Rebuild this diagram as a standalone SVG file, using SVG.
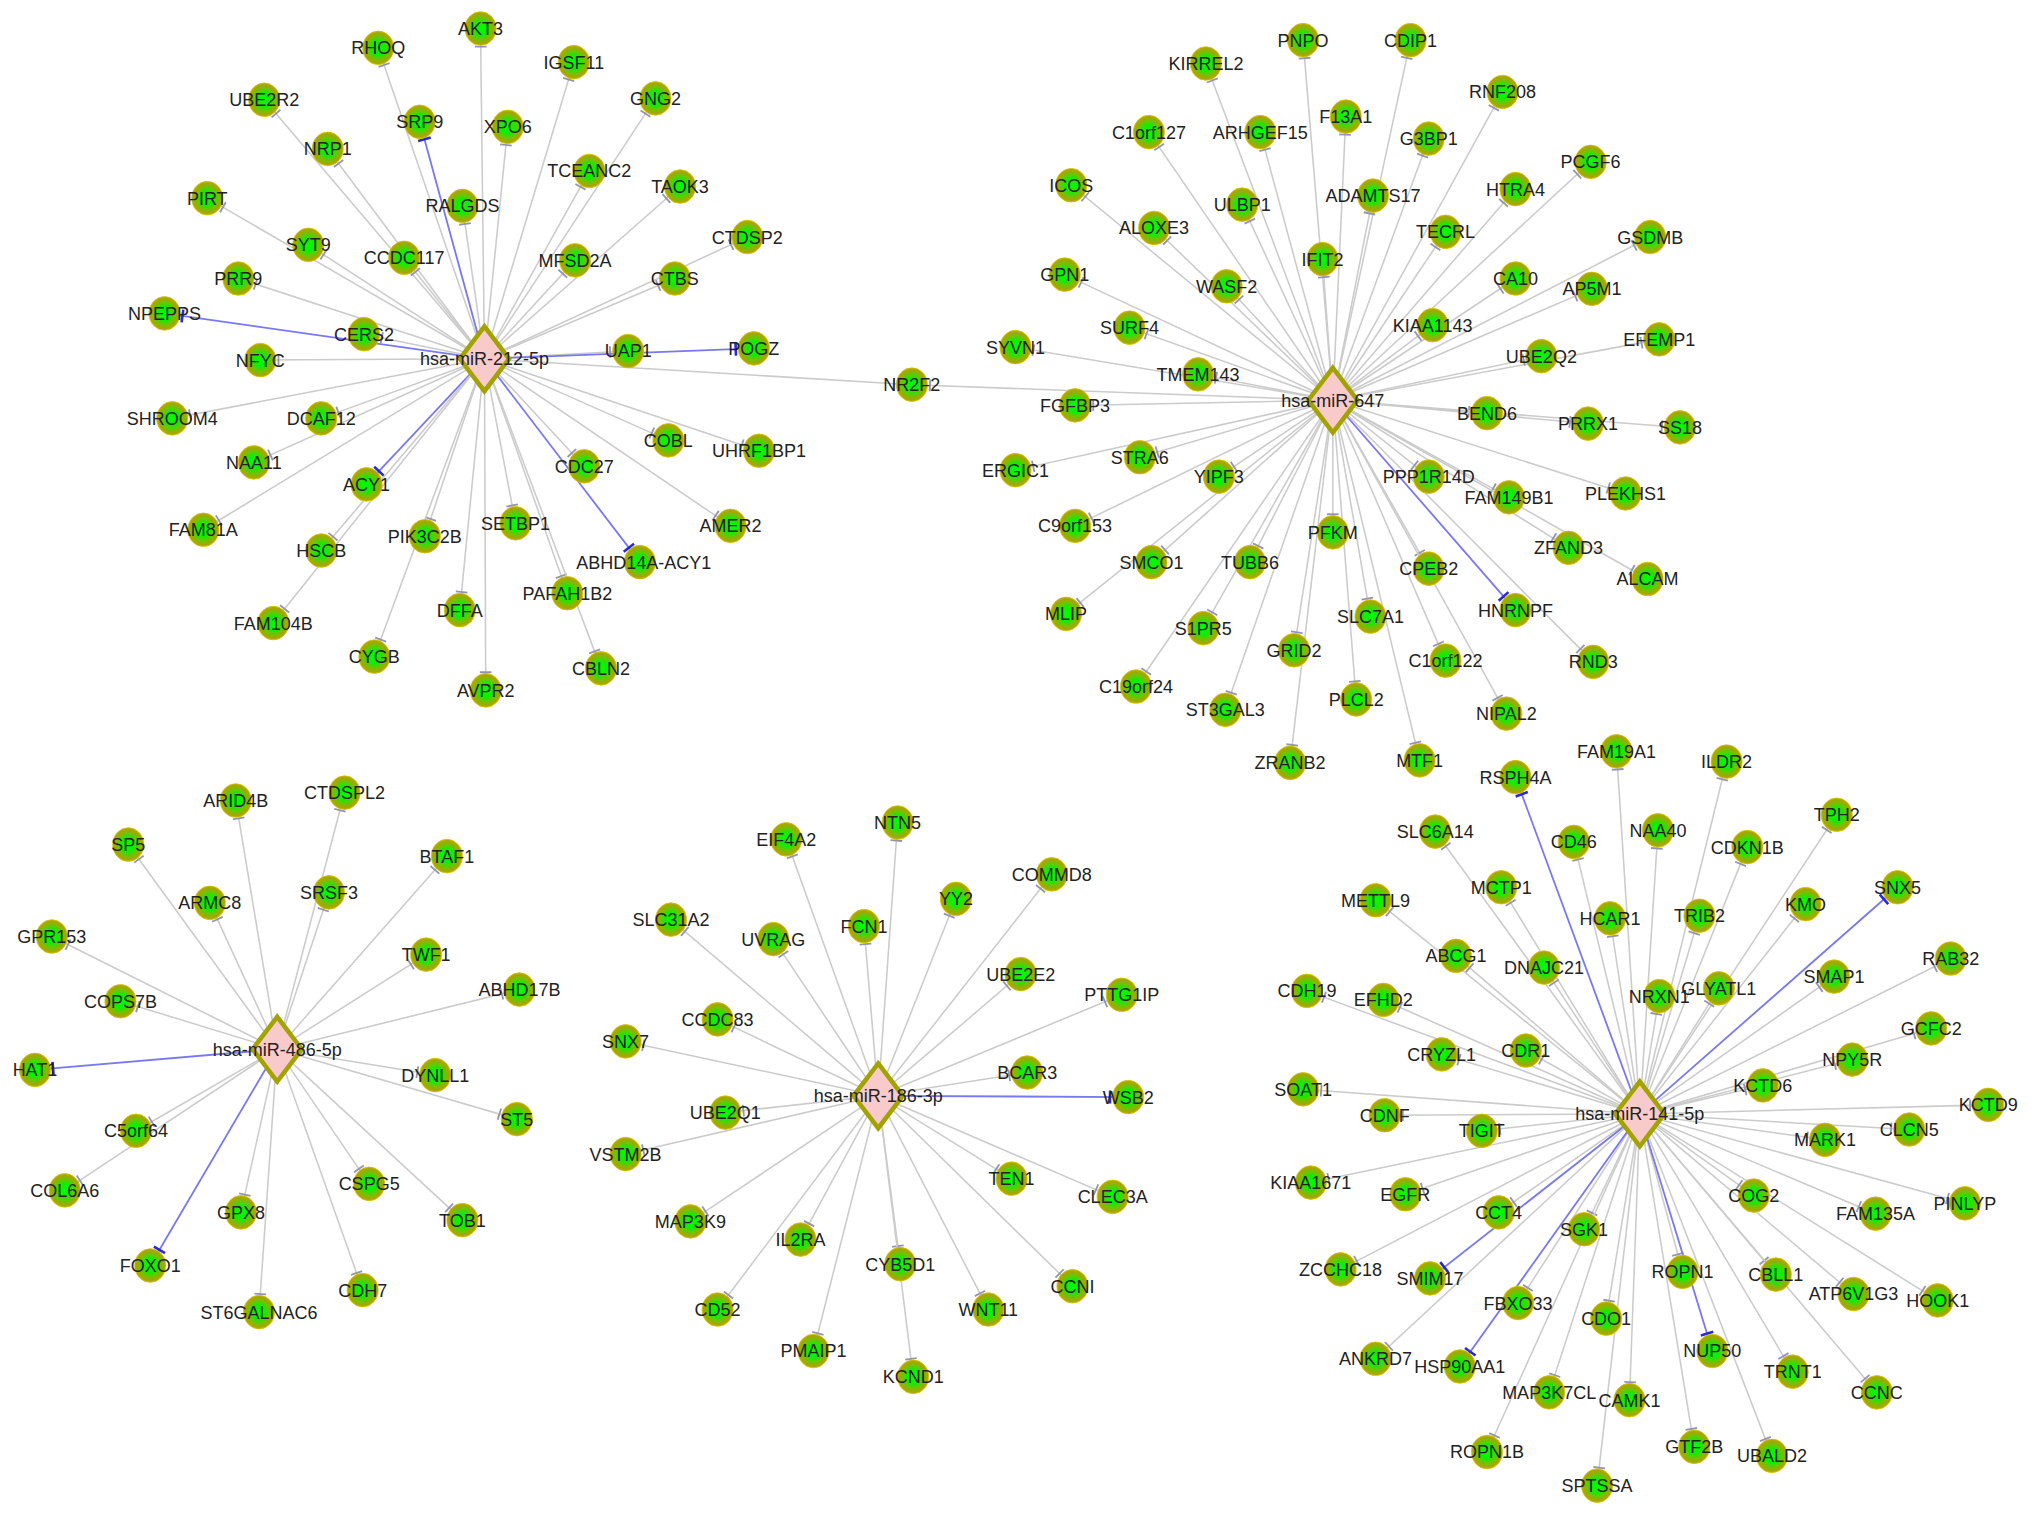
<svg xmlns="http://www.w3.org/2000/svg" width="2031" height="1517" viewBox="0 0 2031 1517">
<defs>
<radialGradient id="ng" cx="50%" cy="50%" r="50%">
<stop offset="0%" stop-color="#00ff00"/>
<stop offset="42%" stop-color="#12ec00"/>
<stop offset="66%" stop-color="#6cc400"/>
<stop offset="86%" stop-color="#a2a800"/>
<stop offset="100%" stop-color="#b2aa00"/>
</radialGradient>
<marker id="tg" markerUnits="userSpaceOnUse" markerWidth="30" markerHeight="20" viewBox="-15 -10 30 20" refX="14" refY="0" orient="auto" overflow="visible">
<path d="M0,-4.5V4.5" stroke="#9494b0" stroke-width="1.4" fill="none"/>
</marker>
<marker id="tb" markerUnits="userSpaceOnUse" markerWidth="30" markerHeight="20" viewBox="-15 -10 30 20" refX="14" refY="0" orient="auto" overflow="visible">
<path d="M0,-5V5" stroke="#2828d8" stroke-width="2" fill="none"/>
</marker>
</defs>
<style>
.e{stroke:#cbcbcb;stroke-width:1.2;fill:none;marker-end:url(#tg)}
.b{stroke:#7878f2;stroke-width:1.4;fill:none;marker-end:url(#tb)}
.n ellipse{fill:url(#ng);stroke:#d6c400;stroke-width:0.6}
.h polygon{fill:#f9caca;stroke:#a3a300;stroke-width:3.5;stroke-linejoin:miter}
text{font-family:"Liberation Sans",Arial,sans-serif;font-size:13.9px;fill:#222222;text-anchor:middle}
</style>
<rect width="2031" height="1517" fill="#ffffff"/>
<g transform="scale(1.29528)">
<g id="connectors">
<line class="e" x1="374" y1="277" x2="371" y2="22"/>
<line class="e" x1="374" y1="277" x2="292" y2="37"/>
<line class="e" x1="374" y1="277" x2="443" y2="48"/>
<line class="e" x1="374" y1="277" x2="204" y2="77"/>
<line class="e" x1="374" y1="277" x2="506" y2="76"/>
<line class="b" x1="374" y1="277" x2="324" y2="94"/>
<line class="e" x1="374" y1="277" x2="392" y2="98"/>
<line class="e" x1="374" y1="277" x2="253" y2="115"/>
<line class="e" x1="374" y1="277" x2="455" y2="132"/>
<line class="e" x1="374" y1="277" x2="525" y2="144"/>
<line class="e" x1="374" y1="277" x2="160" y2="153"/>
<line class="e" x1="374" y1="277" x2="357" y2="159"/>
<line class="e" x1="374" y1="277" x2="577" y2="183"/>
<line class="e" x1="374" y1="277" x2="238" y2="189"/>
<line class="e" x1="374" y1="277" x2="312" y2="199"/>
<line class="e" x1="374" y1="277" x2="444" y2="201"/>
<line class="e" x1="374" y1="277" x2="184" y2="215"/>
<line class="e" x1="374" y1="277" x2="521" y2="215"/>
<line class="b" x1="374" y1="277" x2="127" y2="242"/>
<line class="e" x1="374" y1="277" x2="281" y2="258"/>
<line class="e" x1="374" y1="277" x2="201" y2="278"/>
<line class="e" x1="374" y1="277" x2="485" y2="271"/>
<line class="b" x1="374" y1="277" x2="582" y2="269"/>
<line class="e" x1="374" y1="277" x2="133" y2="323"/>
<line class="e" x1="374" y1="277" x2="248" y2="323"/>
<line class="e" x1="374" y1="277" x2="516" y2="340"/>
<line class="e" x1="374" y1="277" x2="586" y2="348"/>
<line class="e" x1="374" y1="277" x2="196" y2="357"/>
<line class="e" x1="374" y1="277" x2="451" y2="360"/>
<line class="b" x1="374" y1="277" x2="283" y2="374"/>
<line class="e" x1="374" y1="277" x2="157" y2="409"/>
<line class="e" x1="374" y1="277" x2="328" y2="414"/>
<line class="e" x1="374" y1="277" x2="398" y2="404"/>
<line class="e" x1="374" y1="277" x2="564" y2="406"/>
<line class="e" x1="374" y1="277" x2="248" y2="425"/>
<line class="b" x1="374" y1="277" x2="494" y2="434"/>
<line class="e" x1="374" y1="277" x2="438" y2="458"/>
<line class="e" x1="374" y1="277" x2="355" y2="471"/>
<line class="e" x1="374" y1="277" x2="211" y2="481"/>
<line class="e" x1="374" y1="277" x2="289" y2="507"/>
<line class="e" x1="374" y1="277" x2="464" y2="516"/>
<line class="e" x1="374" y1="277" x2="375" y2="533"/>
<line class="e" x1="374" y1="277" x2="704" y2="297"/>
<line class="e" x1="1029" y1="309" x2="704" y2="297"/>
<line class="e" x1="1029" y1="309" x2="1006" y2="31"/>
<line class="e" x1="1029" y1="309" x2="1089" y2="31"/>
<line class="e" x1="1029" y1="309" x2="931" y2="49"/>
<line class="e" x1="1029" y1="309" x2="1160" y2="71"/>
<line class="e" x1="1029" y1="309" x2="1039" y2="90"/>
<line class="e" x1="1029" y1="309" x2="887" y2="102"/>
<line class="e" x1="1029" y1="309" x2="973" y2="102"/>
<line class="e" x1="1029" y1="309" x2="1103" y2="107"/>
<line class="e" x1="1029" y1="309" x2="1228" y2="125"/>
<line class="e" x1="1029" y1="309" x2="827" y2="143"/>
<line class="e" x1="1029" y1="309" x2="1170" y2="146"/>
<line class="e" x1="1029" y1="309" x2="1060" y2="151"/>
<line class="e" x1="1029" y1="309" x2="959" y2="158"/>
<line class="e" x1="1029" y1="309" x2="891" y2="176"/>
<line class="e" x1="1029" y1="309" x2="1116" y2="179"/>
<line class="e" x1="1029" y1="309" x2="1274" y2="183"/>
<line class="e" x1="1029" y1="309" x2="1021" y2="200"/>
<line class="e" x1="1029" y1="309" x2="822" y2="212"/>
<line class="e" x1="1029" y1="309" x2="947" y2="221"/>
<line class="e" x1="1029" y1="309" x2="1170" y2="215"/>
<line class="e" x1="1029" y1="309" x2="1229" y2="223"/>
<line class="e" x1="1029" y1="309" x2="872" y2="253"/>
<line class="e" x1="1029" y1="309" x2="1106" y2="251"/>
<line class="e" x1="1029" y1="309" x2="1281" y2="262"/>
<line class="e" x1="1029" y1="309" x2="784" y2="268"/>
<line class="e" x1="1029" y1="309" x2="1190" y2="275"/>
<line class="e" x1="1029" y1="309" x2="925" y2="289"/>
<line class="e" x1="1029" y1="309" x2="830" y2="313"/>
<line class="e" x1="1029" y1="309" x2="1148" y2="319"/>
<line class="e" x1="1029" y1="309" x2="1226" y2="327"/>
<line class="e" x1="1029" y1="309" x2="1297" y2="330"/>
<line class="e" x1="1029" y1="309" x2="880" y2="353"/>
<line class="e" x1="1029" y1="309" x2="784" y2="363"/>
<line class="e" x1="1029" y1="309" x2="941" y2="368"/>
<line class="e" x1="1029" y1="309" x2="1103" y2="368"/>
<line class="e" x1="1029" y1="309" x2="1165" y2="384"/>
<line class="e" x1="1029" y1="309" x2="1255" y2="381"/>
<line class="e" x1="1029" y1="309" x2="830" y2="406"/>
<line class="e" x1="1029" y1="309" x2="1029" y2="411"/>
<line class="e" x1="1029" y1="309" x2="889" y2="434"/>
<line class="e" x1="1029" y1="309" x2="965" y2="434"/>
<line class="e" x1="1029" y1="309" x2="1103" y2="439"/>
<line class="e" x1="1029" y1="309" x2="1211" y2="423"/>
<line class="e" x1="1029" y1="309" x2="1272" y2="447"/>
<line class="b" x1="1029" y1="309" x2="1170" y2="471"/>
<line class="e" x1="1029" y1="309" x2="823" y2="474"/>
<line class="e" x1="1029" y1="309" x2="1058" y2="476"/>
<line class="e" x1="1029" y1="309" x2="929" y2="485"/>
<line class="e" x1="1029" y1="309" x2="999" y2="502"/>
<line class="e" x1="1029" y1="309" x2="877" y2="530"/>
<line class="e" x1="1029" y1="309" x2="1116" y2="510"/>
<line class="e" x1="1029" y1="309" x2="1230" y2="511"/>
<line class="e" x1="1029" y1="309" x2="1047" y2="540"/>
<line class="e" x1="1029" y1="309" x2="946" y2="548"/>
<line class="e" x1="1029" y1="309" x2="1163" y2="551"/>
<line class="e" x1="1029" y1="309" x2="996" y2="589"/>
<line class="e" x1="1029" y1="309" x2="1096" y2="587"/>
<line class="e" x1="214" y1="810" x2="266" y2="612"/>
<line class="e" x1="214" y1="810" x2="182" y2="618"/>
<line class="e" x1="214" y1="810" x2="99" y2="652"/>
<line class="e" x1="214" y1="810" x2="345" y2="661"/>
<line class="e" x1="214" y1="810" x2="254" y2="689"/>
<line class="e" x1="214" y1="810" x2="162" y2="697"/>
<line class="e" x1="214" y1="810" x2="40" y2="723"/>
<line class="e" x1="214" y1="810" x2="329" y2="737"/>
<line class="e" x1="214" y1="810" x2="401" y2="764"/>
<line class="e" x1="214" y1="810" x2="93" y2="773"/>
<line class="b" x1="214" y1="810" x2="27" y2="826"/>
<line class="e" x1="214" y1="810" x2="336" y2="830"/>
<line class="e" x1="214" y1="810" x2="399" y2="864"/>
<line class="e" x1="214" y1="810" x2="105" y2="873"/>
<line class="e" x1="214" y1="810" x2="285" y2="914"/>
<line class="e" x1="214" y1="810" x2="50" y2="919"/>
<line class="e" x1="214" y1="810" x2="186" y2="936"/>
<line class="e" x1="214" y1="810" x2="357" y2="942"/>
<line class="b" x1="214" y1="810" x2="116" y2="977"/>
<line class="e" x1="214" y1="810" x2="280" y2="996"/>
<line class="e" x1="214" y1="810" x2="200" y2="1013"/>
<line class="e" x1="678" y1="846" x2="693" y2="635"/>
<line class="e" x1="678" y1="846" x2="607" y2="648"/>
<line class="e" x1="678" y1="846" x2="812" y2="675"/>
<line class="e" x1="678" y1="846" x2="738" y2="694"/>
<line class="e" x1="678" y1="846" x2="518" y2="710"/>
<line class="e" x1="678" y1="846" x2="667" y2="715"/>
<line class="e" x1="678" y1="846" x2="597" y2="725"/>
<line class="e" x1="678" y1="846" x2="788" y2="752"/>
<line class="e" x1="678" y1="846" x2="866" y2="768"/>
<line class="e" x1="678" y1="846" x2="554" y2="787"/>
<line class="e" x1="678" y1="846" x2="483" y2="804"/>
<line class="e" x1="678" y1="846" x2="793" y2="828"/>
<line class="b" x1="678" y1="846" x2="871" y2="847"/>
<line class="e" x1="678" y1="846" x2="560" y2="859"/>
<line class="e" x1="678" y1="846" x2="483" y2="891"/>
<line class="e" x1="678" y1="846" x2="781" y2="910"/>
<line class="e" x1="678" y1="846" x2="859" y2="924"/>
<line class="e" x1="678" y1="846" x2="533" y2="943"/>
<line class="e" x1="678" y1="846" x2="618" y2="957"/>
<line class="e" x1="678" y1="846" x2="695" y2="976"/>
<line class="e" x1="678" y1="846" x2="828" y2="993"/>
<line class="e" x1="678" y1="846" x2="554" y2="1011"/>
<line class="e" x1="678" y1="846" x2="763" y2="1011"/>
<line class="e" x1="678" y1="846" x2="628" y2="1043"/>
<line class="e" x1="678" y1="846" x2="705" y2="1063"/>
<line class="e" x1="1266" y1="860" x2="1248" y2="580"/>
<line class="e" x1="1266" y1="860" x2="1333" y2="588"/>
<line class="b" x1="1266" y1="860" x2="1170" y2="600"/>
<line class="e" x1="1266" y1="860" x2="1418" y2="629"/>
<line class="e" x1="1266" y1="860" x2="1108" y2="642"/>
<line class="e" x1="1266" y1="860" x2="1215" y2="650"/>
<line class="e" x1="1266" y1="860" x2="1280" y2="641"/>
<line class="e" x1="1266" y1="860" x2="1349" y2="654"/>
<line class="b" x1="1266" y1="860" x2="1465" y2="685"/>
<line class="e" x1="1266" y1="860" x2="1062" y2="695"/>
<line class="e" x1="1266" y1="860" x2="1159" y2="685"/>
<line class="e" x1="1266" y1="860" x2="1394" y2="698"/>
<line class="e" x1="1266" y1="860" x2="1243" y2="709"/>
<line class="e" x1="1266" y1="860" x2="1312" y2="707"/>
<line class="e" x1="1266" y1="860" x2="1506" y2="740"/>
<line class="e" x1="1266" y1="860" x2="1124" y2="738"/>
<line class="e" x1="1266" y1="860" x2="1192" y2="747"/>
<line class="e" x1="1266" y1="860" x2="1416" y2="754"/>
<line class="e" x1="1266" y1="860" x2="1327" y2="763"/>
<line class="e" x1="1266" y1="860" x2="1009" y2="765"/>
<line class="e" x1="1266" y1="860" x2="1068" y2="772"/>
<line class="e" x1="1266" y1="860" x2="1281" y2="769"/>
<line class="e" x1="1266" y1="860" x2="1491" y2="794"/>
<line class="e" x1="1266" y1="860" x2="1430" y2="818"/>
<line class="e" x1="1266" y1="860" x2="1113" y2="814"/>
<line class="e" x1="1266" y1="860" x2="1178" y2="811"/>
<line class="e" x1="1266" y1="860" x2="1361" y2="838"/>
<line class="e" x1="1266" y1="860" x2="1006" y2="841"/>
<line class="e" x1="1266" y1="860" x2="1069" y2="861"/>
<line class="e" x1="1266" y1="860" x2="1144" y2="873"/>
<line class="e" x1="1266" y1="860" x2="1535" y2="853"/>
<line class="e" x1="1266" y1="860" x2="1409" y2="880"/>
<line class="e" x1="1266" y1="860" x2="1474" y2="872"/>
<line class="e" x1="1266" y1="860" x2="1012" y2="913"/>
<line class="e" x1="1266" y1="860" x2="1085" y2="922"/>
<line class="e" x1="1266" y1="860" x2="1354" y2="923"/>
<line class="e" x1="1266" y1="860" x2="1448" y2="937"/>
<line class="e" x1="1266" y1="860" x2="1517" y2="929"/>
<line class="e" x1="1266" y1="860" x2="1157" y2="936"/>
<line class="e" x1="1266" y1="860" x2="1223" y2="949"/>
<line class="e" x1="1266" y1="860" x2="1035" y2="980"/>
<line class="b" x1="1266" y1="860" x2="1104" y2="987"/>
<line class="e" x1="1266" y1="860" x2="1299" y2="982"/>
<line class="e" x1="1266" y1="860" x2="1371" y2="984"/>
<line class="e" x1="1266" y1="860" x2="1431" y2="999"/>
<line class="e" x1="1266" y1="860" x2="1496" y2="1004"/>
<line class="e" x1="1266" y1="860" x2="1172" y2="1006"/>
<line class="e" x1="1266" y1="860" x2="1240" y2="1018"/>
<line class="b" x1="1266" y1="860" x2="1322" y2="1043"/>
<line class="e" x1="1266" y1="860" x2="1062" y2="1049"/>
<line class="b" x1="1266" y1="860" x2="1127" y2="1055"/>
<line class="e" x1="1266" y1="860" x2="1384" y2="1059"/>
<line class="e" x1="1266" y1="860" x2="1196" y2="1075"/>
<line class="e" x1="1266" y1="860" x2="1258" y2="1081"/>
<line class="e" x1="1266" y1="860" x2="1449" y2="1075"/>
<line class="e" x1="1266" y1="860" x2="1148" y2="1121"/>
<line class="e" x1="1266" y1="860" x2="1308" y2="1117"/>
<line class="e" x1="1266" y1="860" x2="1368" y2="1124"/>
<line class="e" x1="1266" y1="860" x2="1233" y2="1147"/>
</g>
<g id="nodes">
<g id="n-AKT3" class="n"><ellipse cx="371" cy="22" rx="12" ry="13"/><text x="371" y="27">AKT3</text></g>
<g id="n-RHOQ" class="n"><ellipse cx="292" cy="37" rx="12" ry="13"/><text x="292" y="42">RHOQ</text></g>
<g id="n-IGSF11" class="n"><ellipse cx="443" cy="48" rx="12" ry="13"/><text x="443" y="53">IGSF11</text></g>
<g id="n-UBE2R2" class="n"><ellipse cx="204" cy="77" rx="12" ry="13"/><text x="204" y="82">UBE2R2</text></g>
<g id="n-GNG2" class="n"><ellipse cx="506" cy="76" rx="12" ry="13"/><text x="506" y="81">GNG2</text></g>
<g id="n-SRP9" class="n"><ellipse cx="324" cy="94" rx="12" ry="13"/><text x="324" y="99">SRP9</text></g>
<g id="n-XPO6" class="n"><ellipse cx="392" cy="98" rx="12" ry="13"/><text x="392" y="103">XPO6</text></g>
<g id="n-NRP1" class="n"><ellipse cx="253" cy="115" rx="12" ry="13"/><text x="253" y="120">NRP1</text></g>
<g id="n-TCEANC2" class="n"><ellipse cx="455" cy="132" rx="12" ry="13"/><text x="455" y="137">TCEANC2</text></g>
<g id="n-TAOK3" class="n"><ellipse cx="525" cy="144" rx="12" ry="13"/><text x="525" y="149">TAOK3</text></g>
<g id="n-PIRT" class="n"><ellipse cx="160" cy="153" rx="12" ry="13"/><text x="160" y="158">PIRT</text></g>
<g id="n-RALGDS" class="n"><ellipse cx="357" cy="159" rx="12" ry="13"/><text x="357" y="164">RALGDS</text></g>
<g id="n-CTDSP2" class="n"><ellipse cx="577" cy="183" rx="12" ry="13"/><text x="577" y="188">CTDSP2</text></g>
<g id="n-SYT9" class="n"><ellipse cx="238" cy="189" rx="12" ry="13"/><text x="238" y="194">SYT9</text></g>
<g id="n-CCDC117" class="n"><ellipse cx="312" cy="199" rx="12" ry="13"/><text x="312" y="204">CCDC117</text></g>
<g id="n-MFSD2A" class="n"><ellipse cx="444" cy="201" rx="12" ry="13"/><text x="444" y="206">MFSD2A</text></g>
<g id="n-PRR9" class="n"><ellipse cx="184" cy="215" rx="12" ry="13"/><text x="184" y="220">PRR9</text></g>
<g id="n-CTBS" class="n"><ellipse cx="521" cy="215" rx="12" ry="13"/><text x="521" y="220">CTBS</text></g>
<g id="n-NPEPPS" class="n"><ellipse cx="127" cy="242" rx="12" ry="13"/><text x="127" y="247">NPEPPS</text></g>
<g id="n-CERS2" class="n"><ellipse cx="281" cy="258" rx="12" ry="13"/><text x="281" y="263">CERS2</text></g>
<g id="n-NFYC" class="n"><ellipse cx="201" cy="278" rx="12" ry="13"/><text x="201" y="283">NFYC</text></g>
<g id="n-UAP1" class="n"><ellipse cx="485" cy="271" rx="12" ry="13"/><text x="485" y="276">UAP1</text></g>
<g id="n-POGZ" class="n"><ellipse cx="582" cy="269" rx="12" ry="13"/><text x="582" y="274">POGZ</text></g>
<g id="n-SHROOM4" class="n"><ellipse cx="133" cy="323" rx="12" ry="13"/><text x="133" y="328">SHROOM4</text></g>
<g id="n-DCAF12" class="n"><ellipse cx="248" cy="323" rx="12" ry="13"/><text x="248" y="328">DCAF12</text></g>
<g id="n-COBL" class="n"><ellipse cx="516" cy="340" rx="12" ry="13"/><text x="516" y="345">COBL</text></g>
<g id="n-UHRF1BP1" class="n"><ellipse cx="586" cy="348" rx="12" ry="13"/><text x="586" y="353">UHRF1BP1</text></g>
<g id="n-NAA11" class="n"><ellipse cx="196" cy="357" rx="12" ry="13"/><text x="196" y="362">NAA11</text></g>
<g id="n-CDC27" class="n"><ellipse cx="451" cy="360" rx="12" ry="13"/><text x="451" y="365">CDC27</text></g>
<g id="n-ACY1" class="n"><ellipse cx="283" cy="374" rx="12" ry="13"/><text x="283" y="379">ACY1</text></g>
<g id="n-FAM81A" class="n"><ellipse cx="157" cy="409" rx="12" ry="13"/><text x="157" y="414">FAM81A</text></g>
<g id="n-PIK3C2B" class="n"><ellipse cx="328" cy="414" rx="12" ry="13"/><text x="328" y="419">PIK3C2B</text></g>
<g id="n-SETBP1" class="n"><ellipse cx="398" cy="404" rx="12" ry="13"/><text x="398" y="409">SETBP1</text></g>
<g id="n-AMER2" class="n"><ellipse cx="564" cy="406" rx="12" ry="13"/><text x="564" y="411">AMER2</text></g>
<g id="n-HSCB" class="n"><ellipse cx="248" cy="425" rx="12" ry="13"/><text x="248" y="430">HSCB</text></g>
<g id="n-ABHD14A-ACY1" class="n"><ellipse cx="494" cy="434" rx="12" ry="13"/><text x="497" y="439">ABHD14A-ACY1</text></g>
<g id="n-PAFAH1B2" class="n"><ellipse cx="438" cy="458" rx="12" ry="13"/><text x="438" y="463">PAFAH1B2</text></g>
<g id="n-DFFA" class="n"><ellipse cx="355" cy="471" rx="12" ry="13"/><text x="355" y="476">DFFA</text></g>
<g id="n-FAM104B" class="n"><ellipse cx="211" cy="481" rx="12" ry="13"/><text x="211" y="486">FAM104B</text></g>
<g id="n-CYGB" class="n"><ellipse cx="289" cy="507" rx="12" ry="13"/><text x="289" y="512">CYGB</text></g>
<g id="n-CBLN2" class="n"><ellipse cx="464" cy="516" rx="12" ry="13"/><text x="464" y="521">CBLN2</text></g>
<g id="n-AVPR2" class="n"><ellipse cx="375" cy="533" rx="12" ry="13"/><text x="375" y="538">AVPR2</text></g>
<g id="n-NR2F2" class="n"><ellipse cx="704" cy="297" rx="12" ry="13"/><text x="704" y="302">NR2F2</text></g>
<g id="n-PNPO" class="n"><ellipse cx="1006" cy="31" rx="12" ry="13"/><text x="1006" y="36">PNPO</text></g>
<g id="n-CDIP1" class="n"><ellipse cx="1089" cy="31" rx="12" ry="13"/><text x="1089" y="36">CDIP1</text></g>
<g id="n-KIRREL2" class="n"><ellipse cx="931" cy="49" rx="12" ry="13"/><text x="931" y="54">KIRREL2</text></g>
<g id="n-RNF208" class="n"><ellipse cx="1160" cy="71" rx="12" ry="13"/><text x="1160" y="76">RNF208</text></g>
<g id="n-F13A1" class="n"><ellipse cx="1039" cy="90" rx="12" ry="13"/><text x="1039" y="95">F13A1</text></g>
<g id="n-C1orf127" class="n"><ellipse cx="887" cy="102" rx="12" ry="13"/><text x="887" y="107">C1orf127</text></g>
<g id="n-ARHGEF15" class="n"><ellipse cx="973" cy="102" rx="12" ry="13"/><text x="973" y="107">ARHGEF15</text></g>
<g id="n-G3BP1" class="n"><ellipse cx="1103" cy="107" rx="12" ry="13"/><text x="1103" y="112">G3BP1</text></g>
<g id="n-PCGF6" class="n"><ellipse cx="1228" cy="125" rx="12" ry="13"/><text x="1228" y="130">PCGF6</text></g>
<g id="n-ICOS" class="n"><ellipse cx="827" cy="143" rx="12" ry="13"/><text x="827" y="148">ICOS</text></g>
<g id="n-HTRA4" class="n"><ellipse cx="1170" cy="146" rx="12" ry="13"/><text x="1170" y="151">HTRA4</text></g>
<g id="n-ADAMTS17" class="n"><ellipse cx="1060" cy="151" rx="12" ry="13"/><text x="1060" y="156">ADAMTS17</text></g>
<g id="n-ULBP1" class="n"><ellipse cx="959" cy="158" rx="12" ry="13"/><text x="959" y="163">ULBP1</text></g>
<g id="n-ALOXE3" class="n"><ellipse cx="891" cy="176" rx="12" ry="13"/><text x="891" y="181">ALOXE3</text></g>
<g id="n-TECRL" class="n"><ellipse cx="1116" cy="179" rx="12" ry="13"/><text x="1116" y="184">TECRL</text></g>
<g id="n-GSDMB" class="n"><ellipse cx="1274" cy="183" rx="12" ry="13"/><text x="1274" y="188">GSDMB</text></g>
<g id="n-IFIT2" class="n"><ellipse cx="1021" cy="200" rx="12" ry="13"/><text x="1021" y="205">IFIT2</text></g>
<g id="n-GPN1" class="n"><ellipse cx="822" cy="212" rx="12" ry="13"/><text x="822" y="217">GPN1</text></g>
<g id="n-WASF2" class="n"><ellipse cx="947" cy="221" rx="12" ry="13"/><text x="947" y="226">WASF2</text></g>
<g id="n-CA10" class="n"><ellipse cx="1170" cy="215" rx="12" ry="13"/><text x="1170" y="220">CA10</text></g>
<g id="n-AP5M1" class="n"><ellipse cx="1229" cy="223" rx="12" ry="13"/><text x="1229" y="228">AP5M1</text></g>
<g id="n-SURF4" class="n"><ellipse cx="872" cy="253" rx="12" ry="13"/><text x="872" y="258">SURF4</text></g>
<g id="n-KIAA1143" class="n"><ellipse cx="1106" cy="251" rx="12" ry="13"/><text x="1106" y="256">KIAA1143</text></g>
<g id="n-EFEMP1" class="n"><ellipse cx="1281" cy="262" rx="12" ry="13"/><text x="1281" y="267">EFEMP1</text></g>
<g id="n-SYVN1" class="n"><ellipse cx="784" cy="268" rx="12" ry="13"/><text x="784" y="273">SYVN1</text></g>
<g id="n-UBE2Q2" class="n"><ellipse cx="1190" cy="275" rx="12" ry="13"/><text x="1190" y="280">UBE2Q2</text></g>
<g id="n-TMEM143" class="n"><ellipse cx="925" cy="289" rx="12" ry="13"/><text x="925" y="294">TMEM143</text></g>
<g id="n-FGFBP3" class="n"><ellipse cx="830" cy="313" rx="12" ry="13"/><text x="830" y="318">FGFBP3</text></g>
<g id="n-BEND6" class="n"><ellipse cx="1148" cy="319" rx="12" ry="13"/><text x="1148" y="324">BEND6</text></g>
<g id="n-PRRX1" class="n"><ellipse cx="1226" cy="327" rx="12" ry="13"/><text x="1226" y="332">PRRX1</text></g>
<g id="n-SS18" class="n"><ellipse cx="1297" cy="330" rx="12" ry="13"/><text x="1297" y="335">SS18</text></g>
<g id="n-STRA6" class="n"><ellipse cx="880" cy="353" rx="12" ry="13"/><text x="880" y="358">STRA6</text></g>
<g id="n-ERGIC1" class="n"><ellipse cx="784" cy="363" rx="12" ry="13"/><text x="784" y="368">ERGIC1</text></g>
<g id="n-YIPF3" class="n"><ellipse cx="941" cy="368" rx="12" ry="13"/><text x="941" y="373">YIPF3</text></g>
<g id="n-PPP1R14D" class="n"><ellipse cx="1103" cy="368" rx="12" ry="13"/><text x="1103" y="373">PPP1R14D</text></g>
<g id="n-FAM149B1" class="n"><ellipse cx="1165" cy="384" rx="12" ry="13"/><text x="1165" y="389">FAM149B1</text></g>
<g id="n-PLEKHS1" class="n"><ellipse cx="1255" cy="381" rx="12" ry="13"/><text x="1255" y="386">PLEKHS1</text></g>
<g id="n-C9orf153" class="n"><ellipse cx="830" cy="406" rx="12" ry="13"/><text x="830" y="411">C9orf153</text></g>
<g id="n-PFKM" class="n"><ellipse cx="1029" cy="411" rx="12" ry="13"/><text x="1029" y="416">PFKM</text></g>
<g id="n-SMCO1" class="n"><ellipse cx="889" cy="434" rx="12" ry="13"/><text x="889" y="439">SMCO1</text></g>
<g id="n-TUBB6" class="n"><ellipse cx="965" cy="434" rx="12" ry="13"/><text x="965" y="439">TUBB6</text></g>
<g id="n-CPEB2" class="n"><ellipse cx="1103" cy="439" rx="12" ry="13"/><text x="1103" y="444">CPEB2</text></g>
<g id="n-ZFAND3" class="n"><ellipse cx="1211" cy="423" rx="12" ry="13"/><text x="1211" y="428">ZFAND3</text></g>
<g id="n-ALCAM" class="n"><ellipse cx="1272" cy="447" rx="12" ry="13"/><text x="1272" y="452">ALCAM</text></g>
<g id="n-HNRNPF" class="n"><ellipse cx="1170" cy="471" rx="12" ry="13"/><text x="1170" y="476">HNRNPF</text></g>
<g id="n-MLIP" class="n"><ellipse cx="823" cy="474" rx="12" ry="13"/><text x="823" y="479">MLIP</text></g>
<g id="n-SLC7A1" class="n"><ellipse cx="1058" cy="476" rx="12" ry="13"/><text x="1058" y="481">SLC7A1</text></g>
<g id="n-S1PR5" class="n"><ellipse cx="929" cy="485" rx="12" ry="13"/><text x="929" y="490">S1PR5</text></g>
<g id="n-GRID2" class="n"><ellipse cx="999" cy="502" rx="12" ry="13"/><text x="999" y="507">GRID2</text></g>
<g id="n-C19orf24" class="n"><ellipse cx="877" cy="530" rx="12" ry="13"/><text x="877" y="535">C19orf24</text></g>
<g id="n-C1orf122" class="n"><ellipse cx="1116" cy="510" rx="12" ry="13"/><text x="1116" y="515">C1orf122</text></g>
<g id="n-RND3" class="n"><ellipse cx="1230" cy="511" rx="12" ry="13"/><text x="1230" y="516">RND3</text></g>
<g id="n-PLCL2" class="n"><ellipse cx="1047" cy="540" rx="12" ry="13"/><text x="1047" y="545">PLCL2</text></g>
<g id="n-ST3GAL3" class="n"><ellipse cx="946" cy="548" rx="12" ry="13"/><text x="946" y="553">ST3GAL3</text></g>
<g id="n-NIPAL2" class="n"><ellipse cx="1163" cy="551" rx="12" ry="13"/><text x="1163" y="556">NIPAL2</text></g>
<g id="n-ZRANB2" class="n"><ellipse cx="996" cy="589" rx="12" ry="13"/><text x="996" y="594">ZRANB2</text></g>
<g id="n-MTF1" class="n"><ellipse cx="1096" cy="587" rx="12" ry="13"/><text x="1096" y="592">MTF1</text></g>
<g id="n-CTDSPL2" class="n"><ellipse cx="266" cy="612" rx="12" ry="13"/><text x="266" y="617">CTDSPL2</text></g>
<g id="n-ARID4B" class="n"><ellipse cx="182" cy="618" rx="12" ry="13"/><text x="182" y="623">ARID4B</text></g>
<g id="n-SP5" class="n"><ellipse cx="99" cy="652" rx="12" ry="13"/><text x="99" y="657">SP5</text></g>
<g id="n-BTAF1" class="n"><ellipse cx="345" cy="661" rx="12" ry="13"/><text x="345" y="666">BTAF1</text></g>
<g id="n-SRSF3" class="n"><ellipse cx="254" cy="689" rx="12" ry="13"/><text x="254" y="694">SRSF3</text></g>
<g id="n-ARMC8" class="n"><ellipse cx="162" cy="697" rx="12" ry="13"/><text x="162" y="702">ARMC8</text></g>
<g id="n-GPR153" class="n"><ellipse cx="40" cy="723" rx="12" ry="13"/><text x="40" y="728">GPR153</text></g>
<g id="n-TWF1" class="n"><ellipse cx="329" cy="737" rx="12" ry="13"/><text x="329" y="742">TWF1</text></g>
<g id="n-ABHD17B" class="n"><ellipse cx="401" cy="764" rx="12" ry="13"/><text x="401" y="769">ABHD17B</text></g>
<g id="n-COPS7B" class="n"><ellipse cx="93" cy="773" rx="12" ry="13"/><text x="93" y="778">COPS7B</text></g>
<g id="n-HAT1" class="n"><ellipse cx="27" cy="826" rx="12" ry="13"/><text x="27" y="831">HAT1</text></g>
<g id="n-DYNLL1" class="n"><ellipse cx="336" cy="830" rx="12" ry="13"/><text x="336" y="835">DYNLL1</text></g>
<g id="n-ST5" class="n"><ellipse cx="399" cy="864" rx="12" ry="13"/><text x="399" y="869">ST5</text></g>
<g id="n-C5orf64" class="n"><ellipse cx="105" cy="873" rx="12" ry="13"/><text x="105" y="878">C5orf64</text></g>
<g id="n-CSPG5" class="n"><ellipse cx="285" cy="914" rx="12" ry="13"/><text x="285" y="919">CSPG5</text></g>
<g id="n-COL6A6" class="n"><ellipse cx="50" cy="919" rx="12" ry="13"/><text x="50" y="924">COL6A6</text></g>
<g id="n-GPX8" class="n"><ellipse cx="186" cy="936" rx="12" ry="13"/><text x="186" y="941">GPX8</text></g>
<g id="n-TOB1" class="n"><ellipse cx="357" cy="942" rx="12" ry="13"/><text x="357" y="947">TOB1</text></g>
<g id="n-FOXO1" class="n"><ellipse cx="116" cy="977" rx="12" ry="13"/><text x="116" y="982">FOXO1</text></g>
<g id="n-CDH7" class="n"><ellipse cx="280" cy="996" rx="12" ry="13"/><text x="280" y="1001">CDH7</text></g>
<g id="n-ST6GALNAC6" class="n"><ellipse cx="200" cy="1013" rx="12" ry="13"/><text x="200" y="1018">ST6GALNAC6</text></g>
<g id="n-NTN5" class="n"><ellipse cx="693" cy="635" rx="12" ry="13"/><text x="693" y="640">NTN5</text></g>
<g id="n-EIF4A2" class="n"><ellipse cx="607" cy="648" rx="12" ry="13"/><text x="607" y="653">EIF4A2</text></g>
<g id="n-COMMD8" class="n"><ellipse cx="812" cy="675" rx="12" ry="13"/><text x="812" y="680">COMMD8</text></g>
<g id="n-YY2" class="n"><ellipse cx="738" cy="694" rx="12" ry="13"/><text x="738" y="699">YY2</text></g>
<g id="n-SLC31A2" class="n"><ellipse cx="518" cy="710" rx="12" ry="13"/><text x="518" y="715">SLC31A2</text></g>
<g id="n-FCN1" class="n"><ellipse cx="667" cy="715" rx="12" ry="13"/><text x="667" y="720">FCN1</text></g>
<g id="n-UVRAG" class="n"><ellipse cx="597" cy="725" rx="12" ry="13"/><text x="597" y="730">UVRAG</text></g>
<g id="n-UBE2E2" class="n"><ellipse cx="788" cy="752" rx="12" ry="13"/><text x="788" y="757">UBE2E2</text></g>
<g id="n-PTTG1IP" class="n"><ellipse cx="866" cy="768" rx="12" ry="13"/><text x="866" y="773">PTTG1IP</text></g>
<g id="n-CCDC83" class="n"><ellipse cx="554" cy="787" rx="12" ry="13"/><text x="554" y="792">CCDC83</text></g>
<g id="n-SNX7" class="n"><ellipse cx="483" cy="804" rx="12" ry="13"/><text x="483" y="809">SNX7</text></g>
<g id="n-BCAR3" class="n"><ellipse cx="793" cy="828" rx="12" ry="13"/><text x="793" y="833">BCAR3</text></g>
<g id="n-WSB2" class="n"><ellipse cx="871" cy="847" rx="12" ry="13"/><text x="871" y="852">WSB2</text></g>
<g id="n-UBE2Q1" class="n"><ellipse cx="560" cy="859" rx="12" ry="13"/><text x="560" y="864">UBE2Q1</text></g>
<g id="n-VSTM2B" class="n"><ellipse cx="483" cy="891" rx="12" ry="13"/><text x="483" y="896">VSTM2B</text></g>
<g id="n-TEN1" class="n"><ellipse cx="781" cy="910" rx="12" ry="13"/><text x="781" y="915">TEN1</text></g>
<g id="n-CLEC3A" class="n"><ellipse cx="859" cy="924" rx="12" ry="13"/><text x="859" y="929">CLEC3A</text></g>
<g id="n-MAP3K9" class="n"><ellipse cx="533" cy="943" rx="12" ry="13"/><text x="533" y="948">MAP3K9</text></g>
<g id="n-IL2RA" class="n"><ellipse cx="618" cy="957" rx="12" ry="13"/><text x="618" y="962">IL2RA</text></g>
<g id="n-CYB5D1" class="n"><ellipse cx="695" cy="976" rx="12" ry="13"/><text x="695" y="981">CYB5D1</text></g>
<g id="n-CCNI" class="n"><ellipse cx="828" cy="993" rx="12" ry="13"/><text x="828" y="998">CCNI</text></g>
<g id="n-CD52" class="n"><ellipse cx="554" cy="1011" rx="12" ry="13"/><text x="554" y="1016">CD52</text></g>
<g id="n-WNT11" class="n"><ellipse cx="763" cy="1011" rx="12" ry="13"/><text x="763" y="1016">WNT11</text></g>
<g id="n-PMAIP1" class="n"><ellipse cx="628" cy="1043" rx="12" ry="13"/><text x="628" y="1048">PMAIP1</text></g>
<g id="n-KCND1" class="n"><ellipse cx="705" cy="1063" rx="12" ry="13"/><text x="705" y="1068">KCND1</text></g>
<g id="n-FAM19A1" class="n"><ellipse cx="1248" cy="580" rx="12" ry="13"/><text x="1248" y="585">FAM19A1</text></g>
<g id="n-ILDR2" class="n"><ellipse cx="1333" cy="588" rx="12" ry="13"/><text x="1333" y="593">ILDR2</text></g>
<g id="n-RSPH4A" class="n"><ellipse cx="1170" cy="600" rx="12" ry="13"/><text x="1170" y="605">RSPH4A</text></g>
<g id="n-TPH2" class="n"><ellipse cx="1418" cy="629" rx="12" ry="13"/><text x="1418" y="634">TPH2</text></g>
<g id="n-SLC6A14" class="n"><ellipse cx="1108" cy="642" rx="12" ry="13"/><text x="1108" y="647">SLC6A14</text></g>
<g id="n-CD46" class="n"><ellipse cx="1215" cy="650" rx="12" ry="13"/><text x="1215" y="655">CD46</text></g>
<g id="n-NAA40" class="n"><ellipse cx="1280" cy="641" rx="12" ry="13"/><text x="1280" y="646">NAA40</text></g>
<g id="n-CDKN1B" class="n"><ellipse cx="1349" cy="654" rx="12" ry="13"/><text x="1349" y="659">CDKN1B</text></g>
<g id="n-SNX5" class="n"><ellipse cx="1465" cy="685" rx="12" ry="13"/><text x="1465" y="690">SNX5</text></g>
<g id="n-METTL9" class="n"><ellipse cx="1062" cy="695" rx="12" ry="13"/><text x="1062" y="700">METTL9</text></g>
<g id="n-MCTP1" class="n"><ellipse cx="1159" cy="685" rx="12" ry="13"/><text x="1159" y="690">MCTP1</text></g>
<g id="n-KMO" class="n"><ellipse cx="1394" cy="698" rx="12" ry="13"/><text x="1394" y="703">KMO</text></g>
<g id="n-HCAR1" class="n"><ellipse cx="1243" cy="709" rx="12" ry="13"/><text x="1243" y="714">HCAR1</text></g>
<g id="n-TRIB2" class="n"><ellipse cx="1312" cy="707" rx="12" ry="13"/><text x="1312" y="712">TRIB2</text></g>
<g id="n-RAB32" class="n"><ellipse cx="1506" cy="740" rx="12" ry="13"/><text x="1506" y="745">RAB32</text></g>
<g id="n-ABCG1" class="n"><ellipse cx="1124" cy="738" rx="12" ry="13"/><text x="1124" y="743">ABCG1</text></g>
<g id="n-DNAJC21" class="n"><ellipse cx="1192" cy="747" rx="12" ry="13"/><text x="1192" y="752">DNAJC21</text></g>
<g id="n-SMAP1" class="n"><ellipse cx="1416" cy="754" rx="12" ry="13"/><text x="1416" y="759">SMAP1</text></g>
<g id="n-GLYATL1" class="n"><ellipse cx="1327" cy="763" rx="12" ry="13"/><text x="1327" y="768">GLYATL1</text></g>
<g id="n-CDH19" class="n"><ellipse cx="1009" cy="765" rx="12" ry="13"/><text x="1009" y="770">CDH19</text></g>
<g id="n-EFHD2" class="n"><ellipse cx="1068" cy="772" rx="12" ry="13"/><text x="1068" y="777">EFHD2</text></g>
<g id="n-NRXN1" class="n"><ellipse cx="1281" cy="769" rx="12" ry="13"/><text x="1281" y="774">NRXN1</text></g>
<g id="n-GCFC2" class="n"><ellipse cx="1491" cy="794" rx="12" ry="13"/><text x="1491" y="799">GCFC2</text></g>
<g id="n-NPY5R" class="n"><ellipse cx="1430" cy="818" rx="12" ry="13"/><text x="1430" y="823">NPY5R</text></g>
<g id="n-CRYZL1" class="n"><ellipse cx="1113" cy="814" rx="12" ry="13"/><text x="1113" y="819">CRYZL1</text></g>
<g id="n-CDR1" class="n"><ellipse cx="1178" cy="811" rx="12" ry="13"/><text x="1178" y="816">CDR1</text></g>
<g id="n-KCTD6" class="n"><ellipse cx="1361" cy="838" rx="12" ry="13"/><text x="1361" y="843">KCTD6</text></g>
<g id="n-SOAT1" class="n"><ellipse cx="1006" cy="841" rx="12" ry="13"/><text x="1006" y="846">SOAT1</text></g>
<g id="n-CDNF" class="n"><ellipse cx="1069" cy="861" rx="12" ry="13"/><text x="1069" y="866">CDNF</text></g>
<g id="n-TIGIT" class="n"><ellipse cx="1144" cy="873" rx="12" ry="13"/><text x="1144" y="878">TIGIT</text></g>
<g id="n-KCTD9" class="n"><ellipse cx="1535" cy="853" rx="12" ry="13"/><text x="1535" y="858">KCTD9</text></g>
<g id="n-MARK1" class="n"><ellipse cx="1409" cy="880" rx="12" ry="13"/><text x="1409" y="885">MARK1</text></g>
<g id="n-CLCN5" class="n"><ellipse cx="1474" cy="872" rx="12" ry="13"/><text x="1474" y="877">CLCN5</text></g>
<g id="n-KIAA1671" class="n"><ellipse cx="1012" cy="913" rx="12" ry="13"/><text x="1012" y="918">KIAA1671</text></g>
<g id="n-EGFR" class="n"><ellipse cx="1085" cy="922" rx="12" ry="13"/><text x="1085" y="927">EGFR</text></g>
<g id="n-COG2" class="n"><ellipse cx="1354" cy="923" rx="12" ry="13"/><text x="1354" y="928">COG2</text></g>
<g id="n-FAM135A" class="n"><ellipse cx="1448" cy="937" rx="12" ry="13"/><text x="1448" y="942">FAM135A</text></g>
<g id="n-PINLYP" class="n"><ellipse cx="1517" cy="929" rx="12" ry="13"/><text x="1517" y="934">PINLYP</text></g>
<g id="n-CCT4" class="n"><ellipse cx="1157" cy="936" rx="12" ry="13"/><text x="1157" y="941">CCT4</text></g>
<g id="n-SGK1" class="n"><ellipse cx="1223" cy="949" rx="12" ry="13"/><text x="1223" y="954">SGK1</text></g>
<g id="n-ZCCHC18" class="n"><ellipse cx="1035" cy="980" rx="12" ry="13"/><text x="1035" y="985">ZCCHC18</text></g>
<g id="n-SMIM17" class="n"><ellipse cx="1104" cy="987" rx="12" ry="13"/><text x="1104" y="992">SMIM17</text></g>
<g id="n-ROPN1" class="n"><ellipse cx="1299" cy="982" rx="12" ry="13"/><text x="1299" y="987">ROPN1</text></g>
<g id="n-CBLL1" class="n"><ellipse cx="1371" cy="984" rx="12" ry="13"/><text x="1371" y="989">CBLL1</text></g>
<g id="n-ATP6V1G3" class="n"><ellipse cx="1431" cy="999" rx="12" ry="13"/><text x="1431" y="1004">ATP6V1G3</text></g>
<g id="n-HOOK1" class="n"><ellipse cx="1496" cy="1004" rx="12" ry="13"/><text x="1496" y="1009">HOOK1</text></g>
<g id="n-FBXO33" class="n"><ellipse cx="1172" cy="1006" rx="12" ry="13"/><text x="1172" y="1011">FBXO33</text></g>
<g id="n-CDO1" class="n"><ellipse cx="1240" cy="1018" rx="12" ry="13"/><text x="1240" y="1023">CDO1</text></g>
<g id="n-NUP50" class="n"><ellipse cx="1322" cy="1043" rx="12" ry="13"/><text x="1322" y="1048">NUP50</text></g>
<g id="n-ANKRD7" class="n"><ellipse cx="1062" cy="1049" rx="12" ry="13"/><text x="1062" y="1054">ANKRD7</text></g>
<g id="n-HSP90AA1" class="n"><ellipse cx="1127" cy="1055" rx="12" ry="13"/><text x="1127" y="1060">HSP90AA1</text></g>
<g id="n-TRNT1" class="n"><ellipse cx="1384" cy="1059" rx="12" ry="13"/><text x="1384" y="1064">TRNT1</text></g>
<g id="n-MAP3K7CL" class="n"><ellipse cx="1196" cy="1075" rx="12" ry="13"/><text x="1196" y="1080">MAP3K7CL</text></g>
<g id="n-CAMK1" class="n"><ellipse cx="1258" cy="1081" rx="12" ry="13"/><text x="1258" y="1086">CAMK1</text></g>
<g id="n-CCNC" class="n"><ellipse cx="1449" cy="1075" rx="12" ry="13"/><text x="1449" y="1080">CCNC</text></g>
<g id="n-ROPN1B" class="n"><ellipse cx="1148" cy="1121" rx="12" ry="13"/><text x="1148" y="1126">ROPN1B</text></g>
<g id="n-GTF2B" class="n"><ellipse cx="1308" cy="1117" rx="12" ry="13"/><text x="1308" y="1122">GTF2B</text></g>
<g id="n-UBALD2" class="n"><ellipse cx="1368" cy="1124" rx="12" ry="13"/><text x="1368" y="1129">UBALD2</text></g>
<g id="n-SPTSSA" class="n"><ellipse cx="1233" cy="1147" rx="12" ry="13"/><text x="1233" y="1152">SPTSSA</text></g>
<g id="hub-miR-212-5p" class="h"><polygon points="374,252 393,277 374,302 355,277"/><text x="374" y="282">hsa-miR-212-5p</text></g>
<g id="hub-miR-647" class="h"><polygon points="1029,284 1048,309 1029,334 1010,309"/><text x="1029" y="314">hsa-miR-647</text></g>
<g id="hub-miR-486-5p" class="h"><polygon points="214,785 233,810 214,835 195,810"/><text x="214" y="815">hsa-miR-486-5p</text></g>
<g id="hub-miR-186-3p" class="h"><polygon points="678,821 697,846 678,871 659,846"/><text x="678" y="851">hsa-miR-186-3p</text></g>
<g id="hub-miR-141-5p" class="h"><polygon points="1266,835 1285,860 1266,885 1247,860"/><text x="1266" y="865">hsa-miR-141-5p</text></g>
</g>
</g>
</svg>
